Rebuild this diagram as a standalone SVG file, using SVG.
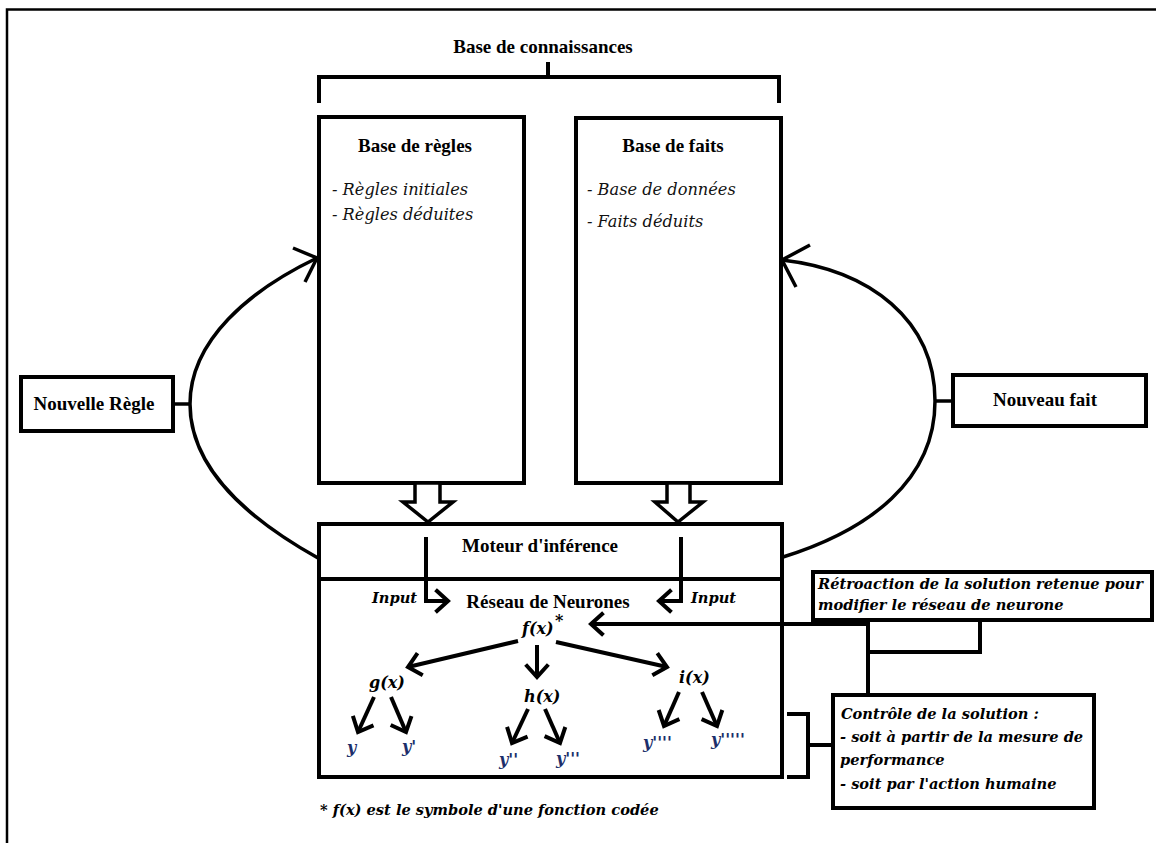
<svg xmlns="http://www.w3.org/2000/svg" width="1156" height="843" viewBox="0 0 1156 843">
<style>
.hd{font-family:"Liberation Serif","Times New Roman",serif;font-weight:bold;font-size:19px;fill:#000}
.it{font-family:"DejaVu Serif",serif;font-style:italic;font-size:16.2px;fill:#111}
.bi{font-family:"DejaVu Serif",serif;font-style:italic;font-weight:bold;font-size:14.6px;fill:#000}
.fn{font-family:"DejaVu Serif",serif;font-style:italic;font-weight:bold;font-size:16px;fill:#000}
.ft{font-family:"DejaVu Serif",serif;font-style:italic;font-weight:bold;font-size:14.6px;fill:#000}
.yl{font-family:"DejaVu Serif",serif;font-style:italic;font-weight:bold;font-size:16px;fill:#1c2f6b}
.box{fill:#fff;stroke:#000;stroke-width:4}
.ln{fill:none;stroke:#000;stroke-width:4}
.cv{fill:none;stroke:#000;stroke-width:3.5}
.arr{fill:none;stroke:#000;stroke-width:4;marker-end:url(#chev)}
</style>
<defs>
<marker id="chev" markerUnits="userSpaceOnUse" viewBox="-16 -14 20 28" markerWidth="20" markerHeight="28" refX="0" refY="0" orient="auto" overflow="visible">
<path d="M-11,-10 L0,0 L-11,10" fill="none" stroke="#000" stroke-width="4" stroke-linecap="square"/>
</marker>
</defs>
<rect width="1156" height="843" fill="#fff"/>
<g id="frame">
<path d="M7,843 V9.5 H1156" fill="none" stroke="#000" stroke-width="2.5"/>
</g>
<g id="base-connaissances">
<text class="hd" x="543" y="53" text-anchor="middle">Base de connaissances</text>
<path class="ln" d="M548,62 V77 M319,103 V77 H779 V103"/>
</g>
<g id="base-regles">
<rect class="box" x="319" y="117" width="205" height="366"/>
<text class="hd" x="415" y="152" text-anchor="middle">Base de règles</text>
<text class="it" x="332" y="195">- Règles initiales</text>
<text class="it" x="332" y="220">- Règles déduites</text>
</g>
<g id="base-faits">
<rect class="box" x="576" y="118" width="205" height="365"/>
<text class="hd" x="673" y="152" text-anchor="middle">Base de faits</text>
<text class="it" x="587" y="195">- Base de données</text>
<text class="it" x="587" y="227">- Faits déduits</text>
</g>
<g id="nouvelle-regle">
<rect class="box" x="21" y="377" width="152" height="54"/>
<text class="hd" x="94" y="410" text-anchor="middle">Nouvelle Règle</text>
</g>
<g id="nouveau-fait">
<rect class="box" x="953" y="375" width="193" height="51"/>
<text class="hd" x="1045" y="406" text-anchor="middle">Nouveau fait</text>
</g>
<g id="moteur">
<rect class="box" x="319" y="524" width="463" height="253"/>
<path class="ln" d="M319,579 H782"/>
<text class="hd" x="540" y="552" text-anchor="middle">Moteur d'inférence</text>
<text class="hd" x="548" y="608" text-anchor="middle">Réseau de Neurones</text>
<text class="bi" x="372" y="603">Input</text>
<text class="bi" x="691" y="603">Input</text>
</g>
<g id="fonctions">
<text class="fn" x="522" y="634">f(x)</text>
<text class="fn" x="555" y="626" font-size="12">*</text>
<text class="fn" x="369" y="688">g(x)</text>
<text class="fn" x="524" y="702">h(x)</text>
<text class="fn" x="679" y="683">i(x)</text>
<text class="yl" x="347" y="753">y</text>
<text class="yl" x="402" y="752">y'</text>
<text class="yl" x="499" y="765">y''</text>
<text class="yl" x="556" y="764">y'''</text>
<text class="yl" x="643" y="748">y''''</text>
<text class="yl" x="711" y="745">y'''''</text>
</g>
<g id="retroaction">
<rect class="box" x="813" y="572" width="339" height="48"/>
<text class="bi" x="818" y="589">Rétroaction de la solution retenue pour</text>
<text class="bi" x="818" y="610">modifier le réseau de neurone</text>
</g>
<g id="controle">
<rect class="box" x="833" y="695" width="261" height="113"/>
<text class="bi" x="841" y="719">Contrôle de la solution :</text>
<text class="bi" x="840" y="742">- soit à partir de la mesure de</text>
<text class="bi" x="840" y="765">performance</text>
<text class="bi" x="840" y="789">- soit par l'action humaine</text>
</g>
<g id="footnote">
<text class="ft" x="320" y="815">* f(x) est le symbole d'une fonction codée</text>
</g>
<g id="connectors">
<polygon points="415,483 440,483 440,502 453,502 428,522 403,502 415,502" fill="#fff" stroke="#000" stroke-width="3.5" stroke-linejoin="miter"/>
<polygon points="667,483 690,483 690,502 703,502 678,522 655,502 667,502" fill="#fff" stroke="#000" stroke-width="3.5" stroke-linejoin="miter"/>
<path class="cv" d="M173,404 H190"/>
<path class="cv" d="M317,258 C250,290 190,340 190,404 C190,470 250,520 318,558"/>
<path class="cv" d="M293,248 L317,258 L305,282"/>
<path class="cv" d="M935,401 H953"/>
<path class="cv" d="M782,260 C870,270 935,320 935,401 C935,480 870,530 783,557"/>
<path class="cv" d="M810,245 L782,260 L796,287"/>
<path class="arr" d="M426,537 V601 H448"/>
<path class="arr" d="M681,537 V601 H659"/>
<path class="arr" d="M518,641 L408,667"/>
<path class="arr" d="M537,645 V677"/>
<path class="arr" d="M556,642 L667,667"/>
<path class="arr" d="M374,697 L358,732"/>
<path class="arr" d="M391,697 L406,732"/>
<path class="arr" d="M528,709 L512,743"/>
<path class="arr" d="M545,709 L560,743"/>
<path class="arr" d="M679,692 L664,726"/>
<path class="arr" d="M702,692 L717,726"/>
<path class="arr" d="M868,624 H591"/>
<path class="ln" d="M868,622 V695 M866,652 H980 V620"/>
<path class="ln" d="M787,714 H808 V777 H787 M808,745 H833"/>
</g>
</svg>
